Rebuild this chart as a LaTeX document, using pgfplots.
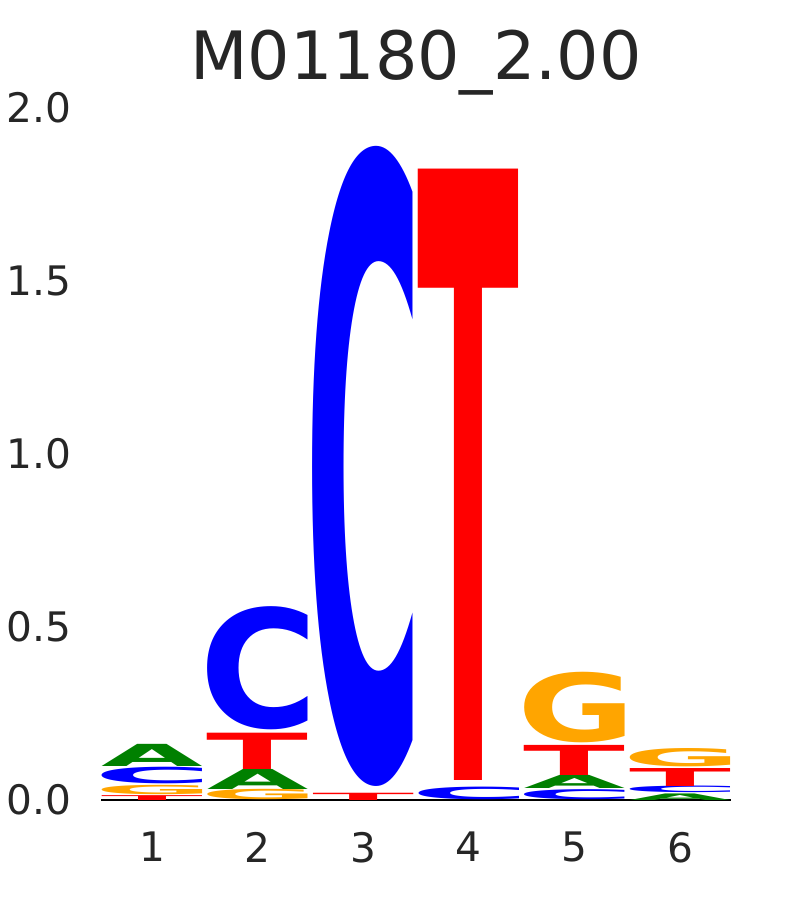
\documentclass[border=0pt]{standalone}
\usepackage{fontspec}
\setmainfont{DejaVu Sans}
\newfontfamily\logofont{DejaVu Sans}
\usepackage{graphicx}
\usepackage{pgfplots}
\usepackage{pgfplotstable}
\pgfplotsset{compat=1.18}
\definecolor{colA}{RGB}{0,128,0}
\definecolor{colC}{RGB}{0,0,255}
\definecolor{colG}{RGB}{255,165,0}
\definecolor{colT}{RGB}{255,0,0}
\definecolor{tcol}{HTML}{262626}
\newlength\glyphH
\newcommand\Glyph[2]{%
  \pgfmathsetlength\glyphH{#2*259.5pt}%
  \color{col#1}%
  \resizebox*{75.24pt}{\glyphH}{\logofont\bfseries\kern-\XeTeXglyphbounds1 \XeTeXcharglyph`#1\relax #1\kern-\XeTeXglyphbounds3 \XeTeXcharglyph`#1\relax}}
\def\GlyphParse#1#2\relax{\Glyph{#1}{#2}}
\newcommand\GlyphMeta{\edef\glyphtmp{\pgfplotspointmeta}\expandafter\GlyphParse\glyphtmp\relax}
% x: position, y: bottom of letter, m: letter followed by its height
\pgfplotstableread{
x y m
1 0.000 T0.014
1 0.016 G0.027
1 0.046 C0.048
1 0.097 A0.064
2 0.000 G0.030
2 0.031 A0.058
2 0.089 T0.105
2 0.203 C0.356
3 0.000 T0.021
3 0.0385 C1.850
4 0.002 C0.0365
4 0.056 T1.765
5 0.000 C0.029
5 0.034 A0.038
5 0.072 T0.087
5 0.164 G0.204
6 0.000 A0.019
6 0.021 C0.019
6 0.040 T0.052
6 0.096 G0.053
}\logodata
\begin{document}
\begin{tikzpicture}
\begin{axis}[
  at={(0,0)}, anchor=south west,
  scale only axis,
  width=475.2pt, height=519pt,
  xmin=0.5, xmax=6.5, ymin=0, ymax=2.0,
  axis lines*=left,
  axis line style={draw=none},
  major tick length=0pt,
  tick style={draw=none},
  xtick={1,2,3,4,5,6},
  xticklabels={1,2,3,4,5,6},
  ytick={0,0.5,1,1.5,2},
  yticklabels={0.0,0.5,1.0,1.5,2.0},
  /pgf/number format/assume math mode=true,
  tick label style={font=\fontsize{30.5pt}{36pt}\selectfont, text=tcol},
  yticklabel style={anchor=east, inner sep=0pt, xshift=-20.5pt},
  xticklabel style={anchor=north, inner sep=0pt, yshift=-23.8pt},
  title={M01180\_2.00},
  title style={at={(0.5,1)}, anchor=base, yshift=15.5pt, inner sep=0pt,
    font=\fontsize{50pt}{60pt}\selectfont, text=tcol},
  clip=false,
]
\addplot[black, line width=1.1pt, forget plot] coordinates {(0.52,0) (6.48,0)};
\addplot[only marks, mark=none,
  point meta=explicit symbolic,
  nodes near coords={\GlyphMeta},
  every node near coord/.append style={anchor=south, inner sep=0pt, outer sep=0pt},
] table[x=x, y=y, meta=m] {\logodata};
\end{axis}
\pgfresetboundingbox
\useasboundingbox (-74.4pt,-75pt) rectangle (533.1pt,600pt);
\end{tikzpicture}
\end{document}
